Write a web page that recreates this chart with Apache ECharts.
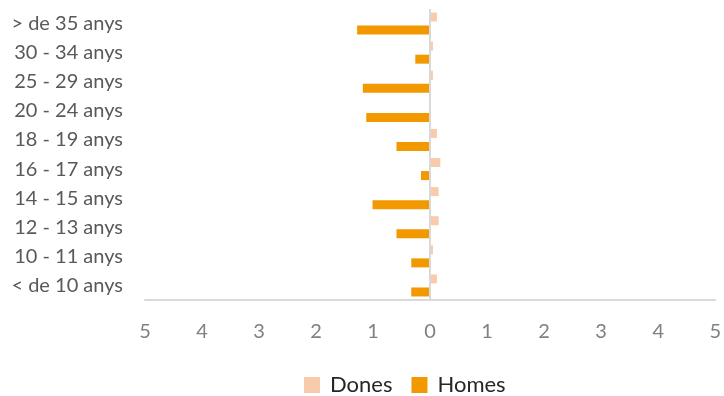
<!DOCTYPE html>
<html><head><meta charset="utf-8">
<script src="https://cdn.jsdelivr.net/npm/echarts@6/dist/echarts.min.js"></script>
<style>html,body{margin:0;padding:0;background:#fff}#c{width:724px;height:396px}</style>
</head><body><div id="c"></div>
<script>
const categories = ['< de 10 anys','10 - 11 anys','12 - 13 anys','14 - 15 anys','16 - 17 anys','18 - 19 anys','20 - 24 anys','25 - 29 anys','30 - 34 anys','> de 35 anys'];
const dones = [0.12, 0.05, 0.15, 0.15, 0.18, 0.12, 0.0, 0.05, 0.05, 0.12];
const homes = [-0.33, -0.33, -0.59, -1.01, -0.16, -0.59, -1.12, -1.18, -0.26, -1.28];
const xTicks = {min: -5, max: 5, interval: 1};

const chart = echarts.init(document.getElementById('c'));
const font = 'Lato, "Open Sans", sans-serif';
chart.setOption({
  animation: false,
  grid: {left: 145, right: 7, top: 9, bottom: 96, containLabel: false},
  legend: {
    top: 374, left: 304, data: ['Dones','Homes'], padding: 0,
    icon: 'rect', itemWidth: 16, itemHeight: 16, itemGap: 19,
    textStyle: {fontFamily: font, fontSize: 22, color: '#262626', padding: [0,0,0,5]}
  },
  xAxis: {
    type: 'value', min: xTicks.min, max: xTicks.max, interval: xTicks.interval,
    axisLine: {show: true, onZero: false, lineStyle: {color: '#d9d9d9', width: 2}},
    axisTick: {show: false}, splitLine: {show: false},
    axisLabel: {margin: 22, color: '#808080', fontFamily: font, fontSize: 20,
      formatter: v => String(Math.abs(v))}
  },
  yAxis: {
    type: 'category', data: categories,
    axisLine: {show: false}, axisTick: {show: false},
    axisLabel: {margin: 22, color: '#595959', fontFamily: font, fontSize: 20}
  },
  series: [
    {name: 'Dones', type: 'bar', data: dones, barWidth: 9, barGap: '45%',
      itemStyle: {color: '#F8CBAD'}},
    {name: 'Homes', type: 'bar', data: homes, barWidth: 9, barGap: '45%',
      itemStyle: {color: '#F29900'},
      markLine: {silent: true, symbol: 'none', label: {show: false},
        lineStyle: {color: '#d9d9d9', width: 2, type: 'solid'},
        data: [{xAxis: 0}]}}
  ]
});
</script></body></html>
